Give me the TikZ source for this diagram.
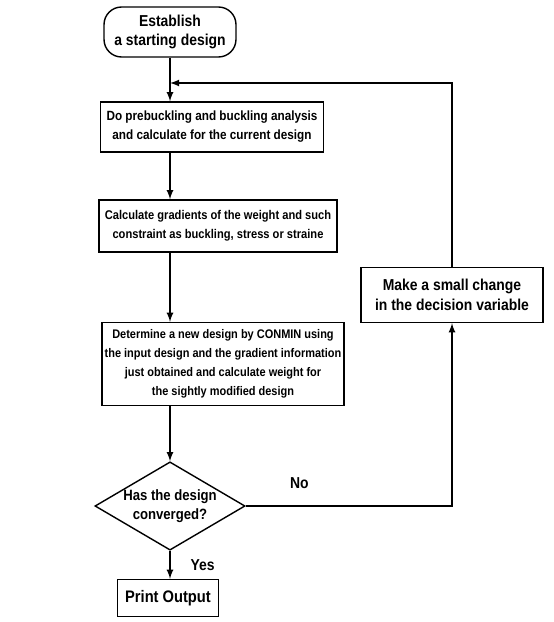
\documentclass[tikz,border=0pt]{standalone}
\usepackage{fontspec}
\setmainfont[FakeStretch=0.88]{Liberation Sans}
\usetikzlibrary{shapes.geometric}

\begin{document}
\begin{tikzpicture}[x=0.02cm, y=-0.02cm, >=latex, thick,
    font=\bfseries\fontsize{7.6}{10.8}\selectfont]
      \useasboundingbox (0,0) rectangle (554,622);
      \node[draw, rounded corners=10, align=center, minimum width=2.64cm, minimum height=1cm, font=\bfseries\fontsize{9}{11}\selectfont] (start) at (170,32) {Establish\\a starting design};
      \node[draw, align=center, minimum width=4.4cm, minimum height=1cm] (analysis) at (212,127) {Do prebuckling and buckling analysis\\and calculate for the current design};
      \node[draw, align=center, minimum width=4.64cm, minimum height=1.04cm, font=\bfseries\fontsize{7.2}{10.8}\selectfont] (gradients) at (218,226) {Calculate gradients of the weight and such\\constraint as buckling, stress or straine};
      \node[draw, align=center, inner xsep=1pt, minimum width=4.84cm, minimum height=1.66cm, font=\bfseries\fontsize{7.1}{10.8}\selectfont] (conmin) at (223,364) {Determine a new design by CONMIN using\\the input design and the gradient information\\just obtained and calculate weight for\\the sightly modified design};
      \node[draw, diamond, aspect=1.7, inner sep=0pt, minimum width=3cm, minimum height=1.76cm, align=center, font=\bfseries\fontsize{8.5}{11}\selectfont] (conv) at (170,506) {Has the design\\converged?};
      \node[draw, minimum width=2.02cm, minimum height=0.74cm, font=\bfseries\fontsize{9.5}{11}\selectfont] (print) at (168,598) {Print Output};
      \node[draw, align=center, minimum width=3.64cm, minimum height=1.1cm, font=\bfseries\fontsize{9}{11}\selectfont] (change) at (452,295) {Make a small change\\in the decision variable};
      \coordinate (join) at (170,83);
      \draw (start.south) -- (join);
      \draw[->] (join) -- (analysis.north -| join);
      \draw[->] (analysis.south -| join) -- (gradients.north -| join);
      \draw[->] (gradients.south -| join) -- (conmin.north -| join);
      \draw[->] (conmin.south -| join) -- (conv.north);
      \draw[->] (conv.south) -- node[right=8pt, font=\bfseries\fontsize{9}{11}\selectfont] {Yes} (print.north -| conv.south);
      \draw[->] (conv.east) -| node[pos=0.13, above=6pt, font=\bfseries\fontsize{9}{11}\selectfont] {No} (change.south);
      \draw[->] (change.north) |- (join);
    \end{tikzpicture}
\end{document}
